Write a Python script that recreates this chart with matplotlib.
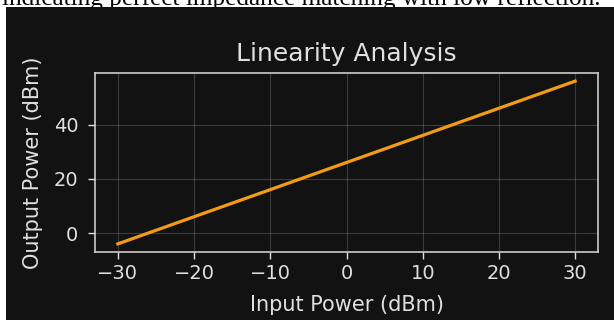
import matplotlib
matplotlib.use("Agg")
import matplotlib.pyplot as plt
from matplotlib.patches import Rectangle

# data
input_dbm = [-30, -20, -10, 0, 10, 20, 30]
output_dbm = [-4, 6, 16, 26, 36, 46, 56]
caption = "indicating perfect impedance matching with low reflection."

BG = "#121212"
FG = "#e0e0e0"

W, H = 614, 320
fig = plt.figure(figsize=(W / 100, H / 100), dpi=100, facecolor="white")

# screenshot leftovers: cut caption line above the dark panel
fig.text(2 / W, 1 - 4.5 / H, caption, family="Liberation Serif", fontsize=18.2,
         color="black", ha="left", va="baseline", zorder=-2)
fig.patches.append(Rectangle((6 / W, 0), 1 - 6 / W, 1 - 7 / H, transform=fig.transFigure,
                             facecolor=BG, edgecolor="none", zorder=-1))

ax = fig.add_axes([95 / W, 68 / H, (598 - 95) / W, (252 - 73) / H])
ax.set_facecolor(BG)
ax.plot(input_dbm, output_dbm, color="#f39c12", lw=2.3)

ax.set_title("Linearity Analysis", color=FG, fontsize=18, pad=9)
ax.set_xlabel("Input Power (dBm)", color=FG, fontsize=15, labelpad=9)
ax.set_ylabel("Output Power (dBm)", color=FG, fontsize=15, labelpad=8)
ax.set_xticks([-30, -20, -10, 0, 10, 20, 30])
ax.set_yticks([0, 20, 40])
ax.tick_params(colors=FG, labelsize=14, length=5, width=1)
ax.tick_params(axis="y", pad=7)
ax.grid(True, color="#888888", alpha=0.35, lw=0.8)
for s in ax.spines.values():
    s.set_color("#cccccc")
    s.set_linewidth(1.2)

fig.savefig("out.png", dpi=100, facecolor="white")
